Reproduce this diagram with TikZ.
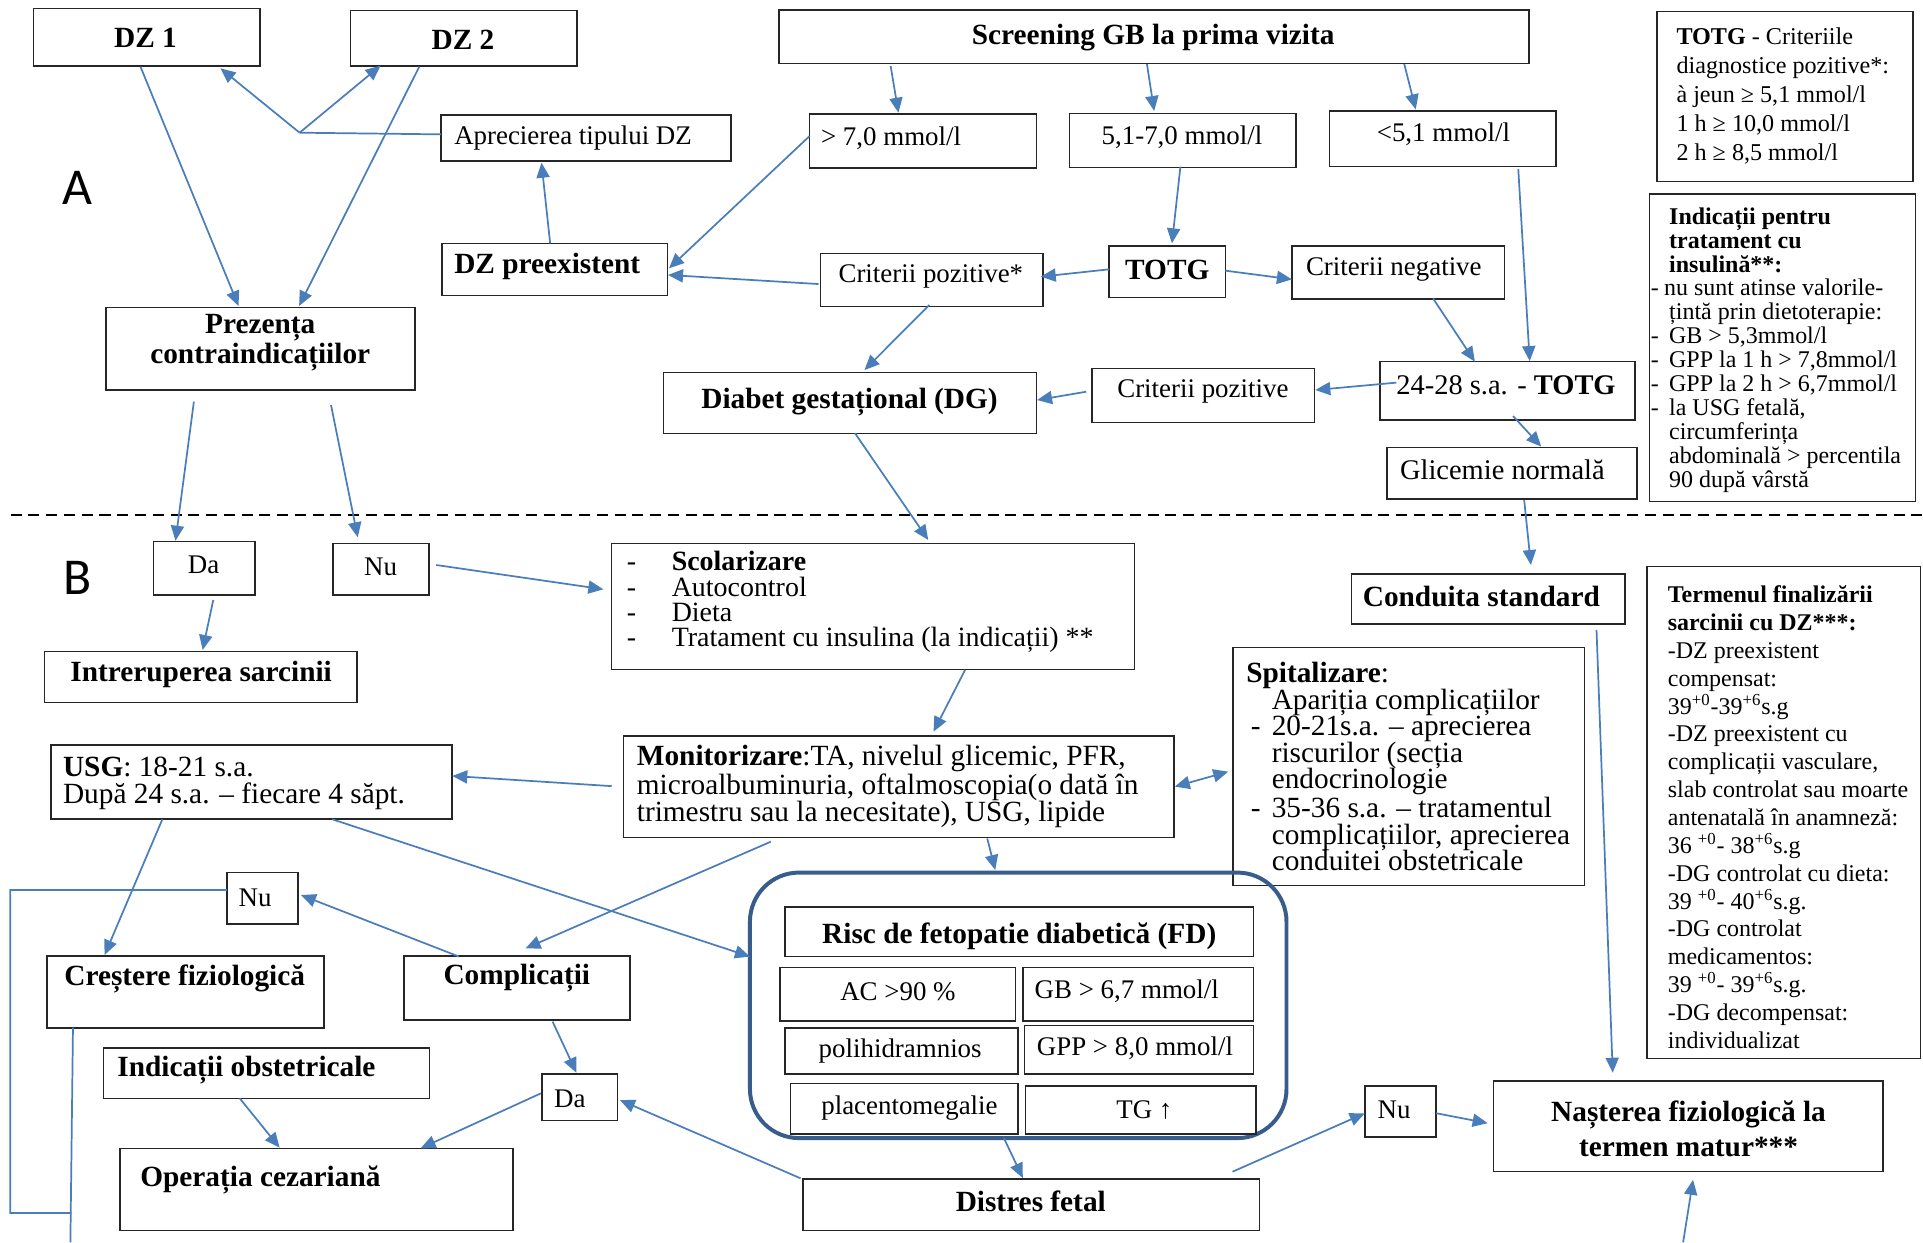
\documentclass[tikz,border=0pt]{standalone}
\usepackage{fontspec}
\setmainfont{Liberation Serif}
\newfontfamily\labfont{Carlito}
\usetikzlibrary{arrows.meta,fit,calc}
\definecolor{arr}{RGB}{74,126,187}
\definecolor{rbox}{RGB}{56,93,138}
\begin{document}
\begin{tikzpicture}[x=0.025cm,y=-0.025cm,
 bx/.style={draw=black!85,line width=0.9pt,inner sep=0pt,outer sep=0pt},
 tc/.style={inner sep=0pt,outer sep=0pt,anchor=center,align=center},
 tw/.style={inner sep=0pt,outer sep=0pt,anchor=west,align=left},
 fb/.style={font=\fontsize{17}{17}\selectfont\bfseries},
 fn/.style={font=\fontsize{15.6}{17}\selectfont},
 ar/.style={draw=arr,line width=1pt,-{Triangle[length=8.7pt,width=7.6pt]}},
 ar2/.style={draw=arr,line width=1pt,{Triangle[length=8.7pt,width=7.6pt]}-{Triangle[length=8.7pt,width=7.6pt]}},
 ln/.style={draw=arr,line width=1pt},
 lab/.style={inner sep=0pt,outer sep=0pt,font=\labfont\fontsize{30}{30}\selectfont},
]
\useasboundingbox (0,0) rectangle (1568,1013);
\fill[white] (0,0) rectangle (1568,1013);

% ---------- boxes ----------
\node[bx,fit={(27.3,6.8)(212.2,53.8)}] (dz1) {};
\node[bx,fit={(285.8,8.4)(470.3,53.8)}] (dz2) {};
\node[bx,fit={(635.4,8.2)(1246.5,51.6)}] (scr) {};
\node[bx,fit={(1351,9.5)(1560,148)}] (totgc) {};
\node[bx,fit={(359.7,93.8)(596,131.3)}] (apr) {};
\node[bx,fit={(660.2,93)(845.2,137.2)}] (g70) {};
\node[bx,fit={(872,92.4)(1056.8,136.4)}] (g51) {};
\node[bx,fit={(1084,90.5)(1268.7,135.9)}] (l51) {};
\node[bx,fit={(360.4,198.7)(544.3,240.8)}] (dzp) {};
\node[bx,fit={(669,206.6)(850.3,250)}] (cpz) {};
\node[bx,fit={(904.4,200.6)(999.2,242.7)}] (totg) {};
\node[bx,fit={(1053.4,200.6)(1226.9,244)}] (cneg) {};
\node[bx,fit={(1345,158)(1562,409)}] (ind) {};
\node[bx,fit={(86.6,250.6)(338.4,318)}] (prez) {};
\node[bx,fit={(541,303.6)(845.2,353.3)}] (dg) {};
\node[bx,fit={(890.4,300.6)(1071.7,344.4)}] (cpoz) {};
\node[bx,fit={(1125.4,294.9)(1333,342.5)}] (t2428) {};
\node[bx,fit={(1131,365)(1335,406.9)}] (glic) {};
\node[bx,fit={(125,441.7)(208,485.2)}] (da1) {};
\node[bx,fit={(271.5,443.3)(349.8,485.2)}] (nu1) {};
\node[bx,fit={(498.5,443.2)(925,545.8)}] (scol) {};
\node[bx,fit={(1102,468)(1324.8,508.8)}] (cond) {};
\node[bx,fit={(36.4,531.4)(291.3,572.7)}] (intr) {};
\node[bx,fit={(1343,462)(1566,863)}] (term) {};
\node[bx,fit={(1005.3,528.1)(1292,722.2)}] (spit) {};
\node[bx,fit={(41.5,607.5)(368.4,667.8)}] (usg) {};
\node[bx,fit={(508.5,600)(957.3,683)}] (mon) {};
\node[draw=rbox,line width=2.3pt,rounded corners=1cm,inner sep=0pt,outer sep=0pt,fit={(611.5,711.5)(1049,928)}] (rr) {};
\node[bx,fit={(640,739.5)(1022,780)}] (risc) {};
\node[bx,fit={(636,789)(828,832.5)}] (ac) {};
\node[bx,fit={(834.2,789)(1022,832.5)}] (gb) {};
\node[bx,fit={(640.2,838)(830,875.7)}] (poli) {};
\node[bx,fit={(835.5,836.3)(1022,875.7)}] (gpp) {};
\node[bx,fit={(644.7,883.3)(830,924.7)}] (plac) {};
\node[bx,fit={(836.2,885.3)(1024,924.7)}] (tg) {};
\node[bx,fit={(185,711.6)(243,753.5)}] (nu2) {};
\node[bx,fit={(38.3,779.5)(264.2,838)}] (cres) {};
\node[bx,fit={(329.4,779.5)(513.7,831.7)}] (comp) {};
\node[bx,fit={(84.5,854.3)(350.3,895.6)}] (indo) {};
\node[bx,fit={(441.8,875.7)(503.4,913.8)}] (da2) {};
\node[bx,fit={(97.8,936.3)(418.1,1003.5)}] (oper) {};
\node[bx,fit={(654.7,961.4)(1027,1003.5)}] (dist) {};
\node[bx,fit={(1112.8,885.3)(1170.9,926.9)}] (nu3) {};
\node[bx,fit={(1217.9,881.5)(1535.2,955.4)}] (nast) {};

% ---------- texts ----------
\node[tc,fb] (t-dz1) at (118.6,31) {DZ 1};
\node[tc,fb] (t-dz2) at (377.5,32.4) {DZ 2};
\node[tc,fb] (t-scr) at (940.3,31) {Screening GB la prima vizita};
\node[tw,font=\fontsize{14}{16.8}\selectfont] (t-totgc) at (1367,78.5) {\textbf{TOTG} - Criteriile\\diagnostice pozitive*:\\ à jeun ≥ 5,1 mmol/l\\1 h ≥ 10,0 mmol/l\\2 h ≥ 8,5 mmol/l};
\node[tw,fn] (t-apr) at (370.4,112.4) {Aprecierea tipului DZ};
\node[tw,fn] (t-g70) at (669.5,112.4) {> 7,0 mmol/l};
\node[tc,fn] (t-g51) at (963.8,111.9) {5,1-7,0 mmol/l};
\node[tc,fn] (t-l51) at (1177,109.2) {<5,1 mmol/l};
\node[lab] (t-A) at (63.2,153.5) {A};
\node[tw,fb] (t-dzp) at (370.4,217.6) {DZ preexistent};
\node[tc,fn] (t-cpz) at (759,225.4) {Criterii pozitive*};
\node[tc,fb] (t-totg) at (951.8,220.3) {TOTG};
\node[tc,fn] (t-cneg) at (1136.5,220) {Criterii negative};
\node[tw,font=\fontsize{13.9}{13.9}\selectfont] (t-ind) at (1346,285.5) {%
\hspace*{10.7pt}\textbf{Indicații pentru}\\
\hspace*{10.7pt}\textbf{tratament cu}\\
\hspace*{10.7pt}\textbf{insulină**:}\\
\makebox[7.8pt][l]{-}nu sunt atinse valorile-\\
\hspace*{10.7pt}țintă prin dietoterapie:\\
\makebox[10.7pt][l]{-}GB > 5,3mmol/l\\
\makebox[10.7pt][l]{-}GPP la 1 h > 7,8mmol/l\\
\makebox[10.7pt][l]{-}GPP la 2 h > 6,7mmol/l\\
\makebox[10.7pt][l]{-}la USG fetală,\\
\hspace*{10.7pt}circumferința\\
\hspace*{10.7pt}abdominală > percentila\\
\hspace*{10.7pt}90 după vârstă};
\node[tc,font=\fontsize{17}{14.5}\selectfont\bfseries] (t-prez) at (212.2,279.5) {Prezența\\contraindicațiilor};
\node[tc,fb] (t-dg) at (692.7,328) {Diabet gestațional (DG)};
\node[tc,fn] (t-cpoz) at (980.8,319.3) {Criterii pozitive};
\node[tw,font=\fontsize{16.5}{17}\selectfont] (t-t2428) at (1138.6,313.8) {24-28 s.a. - \textbf{TOTG}};
\node[tw,font=\fontsize{16.5}{17}\selectfont] (t-glic) at (1141.6,383) {Glicemie normală};
\node[lab] (t-B) at (63.2,471) {B};
\node[tc,fn] (t-da1) at (166,460.5) {Da};
\node[tc,fn] (t-nu1) at (310.3,461.9) {Nu};
\node[tw,font=\fontsize{16.2}{14.7}\selectfont] (t-scol) at (511.2,491) {%
\makebox[26pt][l]{-}\textbf{Scolarizare}\\
\makebox[26pt][l]{-}Autocontrol\\
\makebox[26pt][l]{-}Dieta\\
\makebox[26pt][l]{-}Tratament cu insulina (la indicații) **};
\node[tc,fb] (t-cond) at (1207.9,486.4) {Conduita standard};
\node[tc,fb] (t-intr) at (164,550.3) {Intreruperea sarcinii};
\node[tw,font=\fontsize{13.9}{16.15}\selectfont] (t-term) at (1360,666.3) {%
\textbf{Termenul finalizării}\\
\textbf{sarcinii cu DZ***:}\\
-DZ preexistent\\
compensat:\\
39\textsuperscript{+0}-39\textsuperscript{+6}s.g\\
-DZ preexistent cu\\
complicații vasculare,\\
slab controlat sau moarte\\
antenatală în anamneză:\\
36 \textsuperscript{+0}- 38\textsuperscript{+6}s.g\\
-DG controlat cu dieta:\\
39 \textsuperscript{+0}- 40\textsuperscript{+6}s.g.\\
-DG controlat\\
medicamentos:\\
39 \textsuperscript{+0}- 39\textsuperscript{+6}s.g.\\
-DG decompensat:\\
individualizat};
\node[tw,font=\fontsize{17}{15.45}\selectfont] (t-spit) at (1016.2,625) {%
\textbf{Spitalizare}:\\
\hspace*{14.8pt}Apariția complicațiilor\\
\hspace*{2.7pt}\makebox[12.1pt][l]{-}20-21s.a. – aprecierea\\
\hspace*{14.8pt}riscurilor (secția\\
\hspace*{14.8pt}endocrinologie\\
\hspace*{2.7pt}\makebox[12.1pt][l]{-}35-36 s.a. – tratamentul\\
\hspace*{14.8pt}complicațiilor, aprecierea\\
\hspace*{14.8pt}conduitei obstetricale};
\node[tw,font=\fontsize{17}{15.45}\selectfont] (t-usg) at (51.4,638.6) {\textbf{USG}: 18-21 s.a.\\După 24 s.a. – fiecare 4 săpt.};
\node[tw,font=\fontsize{17}{15.5}\selectfont] (t-mon) at (519.3,641.3) {\textbf{Monitorizare}:TA, nivelul glicemic, PFR,\\microalbuminuria, oftalmoscopia(o dată în\\trimestru sau la necesitate), USG, lipide};
\node[tc,fb] (t-risc) at (831.1,763.8) {Risc de fetopatie diabetică (FD)};
\node[tc,fn] (t-ac) at (732.2,808.4) {AC >90 \%};
\node[tw,fn] (t-gb) at (843.7,808.4) {GB > 6,7 mmol/l};
\node[tc,fn] (t-poli) at (734,857.4) {polihidramnios};
\node[tw,fn] (t-gpp) at (845.5,854.7) {GPP > 8,0 mmol/l};
\node[tw,fn] (t-plac) at (669.7,903.6) {placentomegalie};
\node[tc,fn] (t-tg) at (933.1,904.9) {TG ↑};
\node[tc,fn] (t-nu2) at (208,731.8) {Nu};
\node[tc,fb] (t-cres) at (150.6,797.8) {Creștere fiziologică};
\node[tc,fb] (t-comp) at (421.4,797.8) {Complicații};
\node[tw,fb] (t-indo) at (95.7,872.5) {Indicații obstetricale};
\node[tc,fn] (t-da2) at (464.7,895.8) {Da};
\node[tw,fb] (t-oper) at (114.4,962.2) {Operația cezariană};
\node[tc,fb] (t-dist) at (840.5,979.9) {Distres fetal};
\node[tc,fn] (t-nu3) at (1136.7,904.9) {Nu};
\node[tc,font=\fontsize{17}{20.3}\selectfont\bfseries] (t-nast) at (1376.8,920.5) {Nașterea fiziologică la\\termen matur***};

% ---------- dashed separator ----------
\coordinate (dl1) at (8.7,420);
\coordinate (dl2) at (1568,420);
\draw[black,line width=1.1pt,dash pattern=on 6.4pt off 3.9pt] (dl1) -- (dl2);

% ---------- connectors ----------
\coordinate (jct) at (244.3,108.2);
\draw[ar] ($(dz1.south)+(-5.2,0.6)$) -- ($(prez.north)+(-18,-1.1)$);
\draw[ar] ($(dz2.south)+(-36.2,0.6)$) -- ($(prez.north)+(31.4,-1.1)$);
\draw[ln] ($(apr.west)+(0,-3)$) -- (jct);
\draw[ar] (jct) -- ($(dz1.south)+(60,1.9)$);
\draw[ar] (jct) -- ($(dz2.south)+(-67.75,-0.3)$);
\draw[ar] ($(dzp.north)+(-3.75,-0.3)$) -- ($(apr.south)+(-36.35,1.4)$);
\draw[ar] ($(g70.west)+(0,-4.2)$) -- ($(dzp.east)+(1.2,-0.95)$);
\draw[ar] ($(cpz.west)+(-1.6,3.3)$) -- ($(dzp.east)+(0.4,4.45)$);
\draw[ar] ($(scr.south)+(-214.75,2.2)$) -- ($(g70.north)+(-20.1,-1.1)$);
\draw[ar] ($(scr.south)+(-5.75,0.6)$) -- ($(g51.north)+(-23.3,-1.9)$);
\draw[ar] ($(scr.south)+(204.05,0.6)$) -- ($(l51.north)+(-21.95,-1.3)$);
\draw[ar] ($(g51.south)+(-1.9,-0.5)$) -- ($(totg.north)+(3.8,-2.2)$);
\draw[ar] ($(totg.west)+(0,-2.05)$) -- ($(cpz.east)+(-1.7,-2.7)$);
\draw[ar] ($(totg.east)+(0,-0.95)$) -- ($(cneg.west)+(0,5.5)$);
\draw[ar] ($(cneg.south)+(28.35,-0.7)$) -- ($(t2428.north)+(-26.6,0)$);
\draw[ar] ($(l51.south)+(61.65,2.1)$) -- ($(t2428.north)+(18.1,-0.5)$);
\draw[ar] ($(t2428.west)+(13.2,-6.7)$) -- ($(cpoz.east)+(0.8,-4.5)$);
\draw[ar] ($(cpoz.west)+(-4.7,-3.1)$) -- ($(dg.east)+(0.4,-2.25)$);
\draw[ar] ($(cpz.south)+(-1.85,-1.3)$) -- ($(dg.north)+(11.8,-1.9)$);
\draw[ar] ($(t2428.south)+(4.5,-3.3)$) -- ($(glic.north)+(23.7,-0.8)$);
\draw[ar] ($(glic.south)+(9.8,0.8)$) -- ($(cond.north)+(34.9,-7.3)$);
\draw[ar] ($(dg.south)+(4.1,0)$) -- ($(scol.north)+(45.15,-2.9)$);
\draw[ar] ($(prez.south)+(-54.4,9.5)$) -- ($(da1.north)+(-23.4,-0.8)$);
\draw[ar] ($(prez.south)+(57.4,12.2)$) -- ($(nu1.north)+(-18.95,-5.2)$);
\draw[ar] ($(da1.south)+(7.4,4)$) -- ($(intr.north)+(1.35,-1.4)$);
\draw[ar] ($(nu1.east)+(5.9,-3.55)$) -- ($(scol.west)+(-6.5,-14)$);
\draw[ar] ($(scol.south)+(75.15,0.5)$) -- ($(mon.north)+(28.3,-3.4)$);
\draw[ar] ($(mon.west)+(-9.7,-0.5)$) -- ($(usg.east)+(0.4,-4.95)$);
\draw[ar2] ($(mon.east)+(0.6,-0.1)$) -- ($(spit.west)+(-3.8,4.05)$);
\draw[ar] ($(mon.south)+(72.1,0.6)$) -- ($(rr.north)+(-18.75,-2.1)$);
\draw[ar] ($(mon.south)+(-104.4,3.3)$) -- ($(comp.north)+(6.95,-6.2)$);
\draw[ar] ($(usg.south)+(65.85,0.2)$) -- ($(rr.west)+(0,-39.75)$);
\draw[ar] ($(usg.south)+(-72.55,0.2)$) -- ($(cres.north)+(-65.95,-0.8)$);
\draw[ar] ($(comp.north)+(-47.25,0.5)$) -- ($(nu2.east)+(2.4,-2.75)$);
\coordinate (lp1) at (8.3,725.7);
\coordinate (lp2) at (8.3,989);
\coordinate (lp3) at (58.2,989);
\coordinate (bot1) at (57.4,1013);
\draw[ln] ($(nu2.west)+(0,-6.85)$) -- (lp1) -- (lp2) -- (lp3);
\draw[ln] ($(cres.south)+(-91.75,0)$) -- (bot1);
\draw[ar] ($(comp.south)+(29.05,1.3)$) -- ($(da2.north)+(-2.6,-1)$);
\draw[ar] ($(da2.west)+(-0.8,-3.25)$) -- ($(oper.north)+(85.05,0)$);
\draw[ar] ($(indo.south)+(-21.9,0)$) -- ($(oper.north)+(-29.95,-0.5)$);
\draw[ar] ($(dist.north west)+(-1.9,-0.6)$) -- ($(da2.east)+(2.1,2.25)$);
\draw[ar] ($(rr.south)+(-11.65,0)$) -- ($(dist.north)+(-6.85,-0.8)$);
\draw[ar] ($(dist.north east)+(-22,-6)$) -- ($(nu3.west)+(0,1.7)$);
\draw[ar] ($(nu3.east)+(0.1,1.6)$) -- ($(nast.west)+(-4.9,-2.65)$);
\draw[ar] ($(cond.south)+(88.4,4.9)$) -- ($(nast.north)+(-61.55,-6.8)$);
\coordinate (bot2) at (1372.4,1013);
\draw[ar] (bot2) -- ($(nast.south)+(3.95,6.6)$);
\end{tikzpicture}
\end{document}
